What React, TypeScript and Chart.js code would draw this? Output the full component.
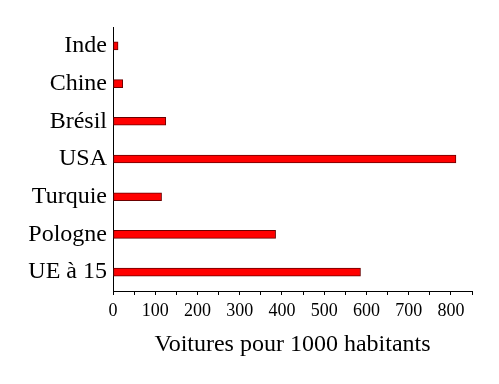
import React, { useEffect, useRef } from "react";
import { Chart, registerables } from "chart.js";

Chart.register(...registerables);

const categories = ["Inde", "Chine", "Brésil", "USA", "Turquie", "Pologne", "UE à 15"];
const values = [12, 23, 125, 812, 115, 385, 586];
const xTitle = "Voitures pour 1000 habitants";

const SERIF = "'Liberation Serif', 'Times New Roman', serif";

export default function App() {
  const ref = useRef<HTMLCanvasElement>(null);
  useEffect(() => {
    const chart = new Chart(ref.current!, {
      type: "bar",
      data: {
        labels: categories,
        datasets: [
          {
            data: values,
            backgroundColor: "#ff0000",
            borderColor: "#6a0000",
            borderWidth: 1,
            borderSkipped: false,
            barThickness: 8,
          },
        ],
      },
      options: {
        indexAxis: "y",
        animation: false,
        responsive: true,
        maintainAspectRatio: false,
        layout: { padding: { left: 0, right: 27, top: 27, bottom: 0 } },
        plugins: { legend: { display: false }, tooltip: { enabled: false } },
        scales: {
          x: {
            min: 0,
            max: 850,
            ticks: {
              stepSize: 50,
              color: "#000",
              font: { family: SERIF, size: 18 },
              padding: 5,
              maxRotation: 0,
              autoSkip: false,
              callback: (v: any) => (Number(v) % 100 === 0 ? String(v) : ""),
            },
            grid: {
              drawOnChartArea: false,
              drawTicks: true,
              tickLength: 4,
              tickColor: "#000",
            },
            border: { display: true, color: "#000", width: 1 },
            title: {
              display: true,
              text: xTitle,
              color: "#000",
              font: { family: SERIF, size: 24 },
              padding: { top: 6, bottom: 25 },
            },
            afterFit: (s: any) => {
              s.height = 93;
            },
          },
          y: {
            ticks: {
              color: "#000",
              font: { family: SERIF, size: 24 },
              padding: 6,
            },
            grid: { display: false, drawTicks: false },
            border: { display: true, color: "#000", width: 1 },
            afterFit: (s: any) => {
              s.width = 113;
            },
          },
        },
      },
    });
    return () => chart.destroy();
  }, []);
  return (
    <div style={{ position: "fixed", left: 0, top: 0, width: 499, height: 384, background: "#fff" }}>
      <canvas ref={ref} />
    </div>
  );
}
